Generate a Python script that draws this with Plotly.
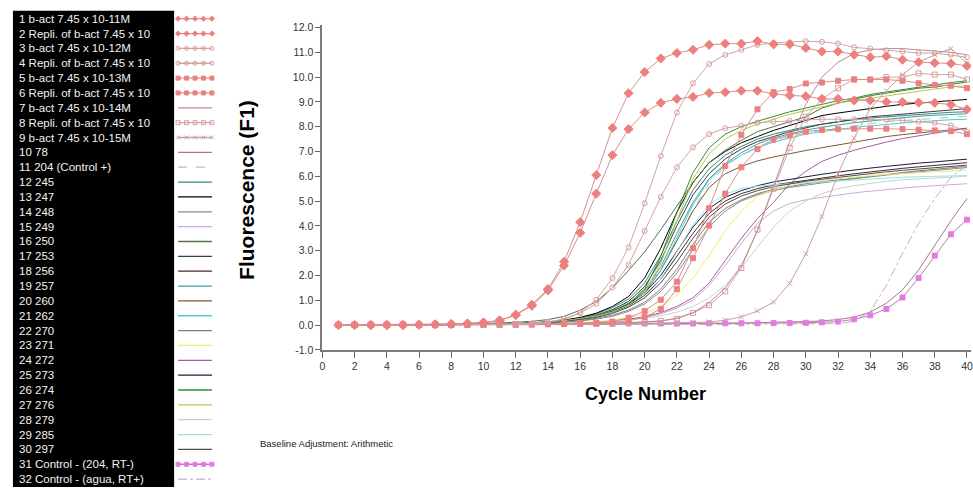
import plotly.graph_objects as go

# ---------------- data ----------------
cycles = list(range(1, 41))

names = ["1 b-act 7.45 x 10-11M", "2 Repli. of b-act 7.45 x 10", "3 b-act 7.45 x 10-12M",
         "4 Repli. of b-act 7.45 x 10", "5 b-act 7.45 x 10-13M", "6 Repli. of b-act 7.45 x 10",
         "7 b-act 7.45 x 10-14M", "8 Repli. of b-act 7.45 x 10", "9 b-act 7.45 x 10-15M",
         "10 78", "11 204 (Control +)", "12 245", "13 247", "14 248", "15 249", "16 250",
         "17 253", "18 256", "19 257", "20 260", "21 262", "22 270", "23 271", "24 272",
         "25 273", "26 274", "27 276", "28 279", "29 285", "30 297",
         "31 Control - (204, RT-)", "32 Control - (agua, RT+)"]

s01 = [0.0,0.0,0.0,0.0,0.0,0.02,0.03,0.04,0.06,0.10, 0.19,0.42,0.82,1.45,2.55,4.15,6.05,7.95,9.35,10.20,
       10.75,10.97,11.10,11.30,11.35,11.35,11.45,11.32,11.32,11.17, 11.03,11.03,10.90,10.80,10.84,10.70,10.60,10.57,10.55,10.45]
s02 = [0.0,0.0,0.0,0.0,0.0,0.01,0.02,0.04,0.06,0.10, 0.18,0.40,0.78,1.40,2.40,3.72,5.30,6.85,7.90,8.57,
       8.96,9.12,9.20,9.36,9.39,9.45,9.45,9.32,9.26,9.23, 9.12,9.12,9.06,9.06,9.00,8.99,8.97,8.96,8.89,8.70]
s03 = [0.0,0.0,0.0,0.0,0.0,0.0,0.01,0.01,0.02,0.02, 0.03,0.04,0.06,0.11,0.24,0.50,1.02,1.90,3.13,4.91,
       6.82,8.57,9.75,10.53,10.90,11.10,11.30,11.38,11.40,11.45, 11.42,11.35,11.20,11.15,11.08,11.03,10.97,10.97,10.90,10.80]
s04 = [0.0,0.0,0.0,0.0,0.0,0.0,0.01,0.01,0.02,0.02, 0.03,0.04,0.06,0.12,0.25,0.48,0.85,1.51,2.43,3.79,
       5.17,6.36,7.17,7.70,7.94,8.04,8.16,8.20,8.23,8.27, 8.30,8.30,8.30,8.30,8.28,8.25,8.20,8.15,8.05,7.80]
s05 = [0.0,0.0,0.0,0.0,0.0,0.0,0.0,0.01,0.01,0.01, 0.02,0.02,0.03,0.04,0.05,0.06,0.09,0.14,0.30,0.57,
       1.02,1.75,3.10,4.71,6.42,7.67,8.70,9.39,9.52,9.74, 9.78,9.85,9.90,9.90,9.90,9.85,9.75,9.68,9.65,9.55]
s06 = [0.0,0.0,0.0,0.0,0.0,0.0,0.0,0.01,0.01,0.01, 0.02,0.02,0.03,0.04,0.05,0.06,0.08,0.11,0.17,0.32,
       0.65,1.45,2.70,4.01,5.30,6.36,7.10,7.48,7.67,7.80, 7.87,7.90,7.92,7.92,7.92,7.90,7.88,7.85,7.82,7.70]
s07 = [0.0,0.0,0.0,0.0,0.0,0.0,0.0,0.0,0.01,0.01, 0.01,0.02,0.02,0.03,0.04,0.05,0.06,0.08,0.10,0.12,
       0.16,0.28,0.50,0.90,1.50,2.40,3.80,5.60,7.40,8.90, 10.00,10.60,10.95,11.10,11.15,11.15,11.10,11.05,11.00,10.90]
s08 = [0.0,0.0,0.0,0.0,0.0,0.0,0.0,0.0,0.01,0.01, 0.01,0.02,0.02,0.03,0.04,0.05,0.06,0.08,0.10,0.13,
       0.17,0.25,0.49,0.80,1.36,2.30,3.85,5.50,7.15,8.40, 9.12,9.55,9.91,9.90,10.00,10.00,10.15,10.10,10.10,9.90]
s09 = [0.0,0.0,0.0,0.0,0.0,0.0,0.0,0.0,0.0,0.01, 0.01,0.01,0.02,0.02,0.03,0.03,0.04,0.05,0.06,0.07,
       0.08,0.09,0.10,0.12,0.20,0.33,0.57,0.93,1.68,2.87, 4.38,6.10,7.54,8.73,9.45,10.10,10.60,10.90,11.15,10.55]
s10 = [0.0,0.0,0.0,0.0,0.0,0.0,0.0,0.0,0.0,0.0, 0.0,0.01,0.01,0.01,0.02,0.02,0.02,0.03,0.03,0.04,
       0.04,0.05,0.05,0.06,0.07,0.08,0.09,0.10,0.12,0.14, 0.17,0.22,0.32,0.52,0.88,1.42,2.22,3.20,4.20,5.10]
s11 = [0.0,0.0,0.0,0.0,0.0,0.0,0.0,0.01,0.01,0.02, 0.03,0.05,0.08,0.12,0.18,0.28,0.42,0.62,0.95,1.45,
       2.25,3.40,4.65,5.70,6.40,6.85,7.20,7.45,7.60,7.75, 7.85,7.95,8.05,8.12,8.20,8.25,8.30,8.35,8.38,8.42]
s12 = [0.0,0.0,0.0,0.0,0.0,0.0,0.0,0.01,0.01,0.02, 0.03,0.05,0.08,0.12,0.19,0.29,0.45,0.70,1.05,1.70,
       2.80,4.20,5.45,6.30,6.85,7.20,7.50,7.70,7.85,8.00, 8.10,8.20,8.28,8.35,8.40,8.45,8.50,8.55,8.58,8.60]
s13 = [0.0,0.0,0.0,0.0,0.0,0.0,0.0,0.01,0.01,0.02, 0.03,0.05,0.08,0.13,0.20,0.31,0.48,0.75,1.15,1.90,
       3.10,4.55,5.75,6.55,7.00,7.35,7.60,7.85,8.05,8.25, 8.45,8.55,8.65,8.75,8.82,8.90,8.95,9.00,9.05,9.10]
s14 = [0.0,0.0,0.0,0.0,0.0,0.0,0.0,0.01,0.01,0.01, 0.02,0.03,0.05,0.08,0.12,0.17,0.24,0.35,0.55,0.85,
       1.35,2.10,3.05,3.95,4.60,5.00,5.25,5.42,5.55,5.65, 5.74,5.82,5.90,5.98,6.05,6.12,6.18,6.24,6.30,6.35]
s15 = [0.0,0.0,0.0,0.0,0.0,0.0,0.0,0.0,0.01,0.01, 0.01,0.02,0.03,0.04,0.06,0.08,0.11,0.15,0.21,0.30,
       0.45,0.68,1.00,1.60,2.40,3.30,4.10,4.60,4.90,5.05, 5.15,5.25,5.33,5.40,5.47,5.53,5.58,5.62,5.66,5.70]
s16 = [0.0,0.0,0.0,0.0,0.0,0.01,0.02,0.03,0.04,0.06, 0.08,0.11,0.15,0.22,0.35,0.60,0.95,1.50,2.20,2.95,
       3.85,4.80,5.75,6.55,7.05,7.45,7.80,8.00,8.20,8.40, 8.75,8.95,9.10,9.25,9.35,9.45,9.55,9.60,9.70,9.80]
s17 = [0.0,0.0,0.0,0.0,0.0,0.0,0.0,0.01,0.01,0.02, 0.03,0.05,0.07,0.11,0.17,0.26,0.40,0.62,0.95,1.55,
       2.60,4.00,5.25,6.10,6.70,7.10,7.40,7.60,7.80,7.95, 8.10,8.20,8.30,8.40,8.45,8.50,8.58,8.63,8.68,8.73]
s18 = [0.0,0.0,0.0,0.0,0.0,0.0,0.0,0.01,0.01,0.02, 0.03,0.04,0.06,0.10,0.15,0.22,0.33,0.50,0.78,1.20,
       1.85,2.75,3.70,4.50,5.00,5.30,5.50,5.65,5.75,5.85, 5.93,6.02,6.10,6.18,6.25,6.32,6.38,6.44,6.50,6.55]
s19 = [0.0,0.0,0.0,0.0,0.0,0.0,0.0,0.01,0.01,0.02, 0.03,0.04,0.07,0.10,0.16,0.24,0.37,0.57,0.88,1.40,
       2.35,3.70,4.95,5.90,6.50,6.95,7.30,7.55,7.72,7.86, 7.98,8.08,8.16,8.23,8.30,8.36,8.42,8.46,8.50,8.52]
s20 = [0.0,0.0,0.0,0.0,0.0,0.0,0.0,0.01,0.01,0.02, 0.03,0.04,0.06,0.10,0.15,0.23,0.35,0.55,0.85,1.30,
       2.20,3.40,4.60,5.55,6.10,6.40,6.62,6.78,6.92,7.04, 7.15,7.26,7.38,7.50,7.60,7.68,7.75,7.82,7.88,7.94]
s21 = [0.0,0.0,0.0,0.0,0.0,0.0,0.0,0.01,0.01,0.02, 0.03,0.04,0.06,0.10,0.15,0.23,0.36,0.56,0.86,1.35,
       2.20,3.50,4.85,5.85,6.45,6.85,7.15,7.38,7.55,7.70, 7.80,7.90,7.97,8.03,8.10,8.15,8.20,8.25,8.28,8.30]
s22 = [0.0,0.0,0.0,0.0,0.0,0.0,0.0,0.01,0.01,0.01, 0.02,0.03,0.05,0.08,0.12,0.18,0.27,0.40,0.60,0.92,
       1.45,2.25,3.25,4.15,4.70,5.05,5.30,5.48,5.60,5.70, 5.78,5.86,5.94,6.02,6.08,6.15,6.22,6.28,6.34,6.40]
s23 = [0.0,0.0,0.0,0.0,0.0,0.0,0.0,0.0,0.01,0.01, 0.01,0.02,0.03,0.05,0.07,0.10,0.14,0.20,0.30,0.45,
       0.75,1.20,1.90,2.80,3.80,4.60,5.20,5.45,5.62,5.75, 5.84,5.91,5.97,6.02,6.07,6.11,6.15,6.19,6.22,6.25]
s24 = [0.0,0.0,0.0,0.0,0.0,0.0,0.0,0.0,0.01,0.01, 0.01,0.02,0.03,0.04,0.06,0.08,0.11,0.16,0.23,0.33,
       0.50,0.75,1.10,1.70,2.60,3.50,4.30,4.95,5.70,6.20, 6.60,6.85,7.05,7.22,7.38,7.52,7.64,7.74,7.84,7.92]
s25 = [0.0,0.0,0.0,0.0,0.0,0.0,0.0,0.01,0.01,0.02, 0.03,0.05,0.07,0.11,0.16,0.24,0.36,0.55,0.85,1.30,
       2.00,2.95,3.95,4.70,5.15,5.42,5.62,5.77,5.88,5.98, 6.08,6.17,6.26,6.33,6.40,6.47,6.53,6.58,6.63,6.69]
s26 = [0.0,0.0,0.0,0.0,0.0,0.0,0.0,0.01,0.01,0.02, 0.03,0.05,0.08,0.12,0.18,0.26,0.38,0.55,0.85,1.45,
       2.75,4.55,6.15,7.15,7.70,8.00,8.22,8.42,8.60,8.75, 8.90,9.05,9.15,9.30,9.40,9.50,9.60,9.70,9.78,9.85]
s27 = [0.0,0.0,0.0,0.0,0.0,0.0,0.0,0.01,0.01,0.02, 0.03,0.05,0.07,0.11,0.17,0.25,0.36,0.52,0.80,1.30,
       2.50,4.20,5.90,6.90,7.50,7.85,8.10,8.30,8.50,8.65, 8.80,8.95,9.05,9.15,9.25,9.35,9.45,9.52,9.60,9.65]
s28 = [0.0,0.0,0.0,0.0,0.0,0.0,0.0,0.0,0.01,0.01, 0.01,0.02,0.03,0.04,0.06,0.08,0.11,0.15,0.20,0.27,
       0.37,0.52,0.75,1.10,1.60,2.30,3.15,3.95,4.60,5.00, 5.30,5.50,5.62,5.72,5.80,5.86,5.90,5.94,5.97,6.00]
s29 = [0.0,0.0,0.0,0.0,0.0,0.0,0.0,0.01,0.01,0.02, 0.03,0.04,0.06,0.09,0.14,0.21,0.32,0.48,0.72,1.10,
       1.85,2.95,4.05,4.85,5.28,5.50,5.60,5.66,5.70,5.74, 5.78,5.82,5.86,5.90,5.93,5.96,5.98,6.00,6.02,6.03]
s30 = [0.0,0.0,0.0,0.0,0.0,0.0,0.0,0.01,0.01,0.02, 0.03,0.04,0.06,0.09,0.14,0.21,0.31,0.47,0.72,1.10,
       1.70,2.55,3.50,4.35,4.88,5.20,5.42,5.58,5.70,5.80, 5.88,5.96,6.04,6.12,6.18,6.24,6.30,6.35,6.40,6.45]
s31 = [0.02,0.02,0.02,0.02,0.03,0.03,0.03,0.03,0.03,0.04, 0.04,0.04,0.04,0.05,0.05,0.05,0.05,0.05,0.06,0.06,
       0.06,0.06,0.06,0.07,0.07,0.07,0.07,0.08,0.08,0.09, 0.11,0.14,0.23,0.39,0.65,1.11,1.90,2.80,3.66,4.25]
s32 = [0.0,0.0,0.0,0.0,0.0,0.0,0.0,0.0,0.0,0.0, 0.0,0.0,0.01,0.01,0.01,0.01,0.02,0.02,0.02,0.02,
       0.02,0.03,0.03,0.03,0.03,0.03,0.04,0.04,0.04,0.04, 0.05,0.06,0.15,0.55,1.60,2.90,4.10,5.10,5.95,6.45]

series = [s01, s02, s03, s04, s05, s06, s07, s08, s09, s10, s11, s12, s13, s14, s15, s16,
          s17, s18, s19, s20, s21, s22, s23, s24, s25, s26, s27, s28, s29, s30, s31, s32]

y_ticks = [-1, 0, 1, 2, 3, 4, 5, 6, 7, 8, 9, 10, 11, 12]
x_ticks = list(range(0, 41, 2))

# ---------------- styles ----------------
RED = '#EE7F7F'
styles = [
    dict(color='#D49090', symbol='diamond', mcolor=RED, msize=7),
    dict(color='#D49090', symbol='diamond', mcolor=RED, msize=7),
    dict(color='#D2A4A4', symbol='circle-open', mcolor='#D89C9C', msize=5),
    dict(color='#D2A4A4', symbol='circle-open', mcolor='#D89C9C', msize=5),
    dict(color='#D49090', symbol='square', mcolor=RED, msize=5),
    dict(color='#D49090', symbol='square', mcolor=RED, msize=5),
    dict(color='#B78C95'),
    dict(color='#D2A4A4', symbol='square-open', mcolor='#D89C9C', msize=5),
    dict(color='#C9A0A0', symbol='x-thin-open', mcolor='#D0A0A0', msize=5),
    dict(color='#A87888'),
    dict(color='#BDBDBD', dash='dash'),
    dict(color='#2E8A7E'),
    dict(color='#000000'),
    dict(color='#8C8C8C'),
    dict(color='#CDA9DA'),
    dict(color='#55704A'),
    dict(color='#3C3C3C'),
    dict(color='#4A2A2A'),
    dict(color='#3AA0A0'),
    dict(color='#7A5A3A'),
    dict(color='#4CCCD6'),
    dict(color='#7F7F7F'),
    dict(color='#EDED70'),
    dict(color='#A0609A'),
    dict(color='#1C1C3C'),
    dict(color='#2F8F2F'),
    dict(color='#C2C24A'),
    dict(color='#CFCFCF'),
    dict(color='#94E4E4'),
    dict(color='#4E4E4E'),
    dict(color='#B87CA8', symbol='square', mcolor='#E57AE5', msize=5, dash='solid'),
    dict(color='#C8A8D0', dash='dashdot'),
]

fig = go.Figure()

draw_order = list(range(10, 30)) + [9, 31, 30, 8, 7, 6, 5, 4, 3, 2, 1, 0]
for i in draw_order:
    st = styles[i]
    has_m = 'symbol' in st
    fig.add_trace(go.Scatter(
        x=cycles, y=series[i], mode='lines+markers' if has_m else 'lines',
        line=dict(color=st['color'], width=1, dash=st.get('dash', 'solid')),
        marker=dict(symbol=st.get('symbol', 'circle'), size=st.get('msize', 6),
                    color=st.get('mcolor', st['color']),
                    line=dict(width=1, color=st.get('mcolor', st['color']))),
        xaxis='x', yaxis='y', hoverinfo='skip', showlegend=False))

# ---------------- custom legend (pixel-coordinate helper axes) ----------------
ROW0, ROWSTEP = 15.0, 15.16
sample_x = [176, 184.5, 193, 201.5, 210]
annotations = []
for i, nm in enumerate(names):
    ry = ROW0 + ROWSTEP * i
    st = styles[i]
    has_m = 'symbol' in st
    fig.add_trace(go.Scatter(
        x=sample_x, y=[ry] * len(sample_x), mode='lines+markers' if has_m else 'lines',
        line=dict(color=st['color'], width=1.3, dash=st.get('dash', 'solid')),
        marker=dict(symbol=st.get('symbol', 'circle'), size=4,
                    color=st.get('mcolor', st['color']),
                    line=dict(width=1, color=st.get('mcolor', st['color']))),
        xaxis='x2', yaxis='y2', hoverinfo='skip', showlegend=False, cliponaxis=False))
    annotations.append(dict(text=nm, x=14, y=ry, xref='x2', yref='y2', xanchor='left',
                            yanchor='middle', showarrow=False,
                            font=dict(family='Arial, Liberation Sans', size=11.5, color='#F2F2F2')))

W, H = 973, 493
annotations += [
    dict(text='<b>Fluorescence (F1)</b>', x=244 / W, y=1 - 190 / H, xref='paper', yref='paper',
         textangle=-90, showarrow=False, xanchor='center', yanchor='middle',
         font=dict(family='Arial, Liberation Sans', size=21, color='#000')),
    dict(text='<b>Cycle Number</b>', x=646 / W, y=1 - 398 / H, xref='paper', yref='paper',
         showarrow=False, xanchor='center', yanchor='middle',
         font=dict(family='Arial, Liberation Sans', size=18, color='#000')),
    dict(text='Baseline Adjustment: Arithmetic', x=256 / W, y=1 - 449 / H, xref='paper', yref='paper',
         showarrow=False, xanchor='left', yanchor='middle',
         font=dict(family='Arial, Liberation Sans', size=9.5, color='#222')),
]

fig.update_layout(
    width=W, height=H, autosize=False, margin=dict(l=0, r=0, t=0, b=0),
    paper_bgcolor='white', plot_bgcolor='white', showlegend=False,
    font=dict(family='Arial, Liberation Sans'),
    xaxis=dict(domain=[321 / W, 1], range=[0, 40.25], tickmode='array', tickvals=x_ticks,
               ticktext=[str(v) for v in x_ticks], ticks='outside', ticklen=6, tickcolor='#666',
               tickwidth=1, showline=True, linecolor='#7A7A7A', linewidth=2, showgrid=False,
               zeroline=False, tickfont=dict(size=10.5, color='#333'), anchor='y',
               ticklabeloverflow='allow'),
    yaxis=dict(domain=[1 - 353 / H, 1 - 21.7 / H], range=[-1, 12.09], tickmode='array',
               tickvals=y_ticks, ticktext=['%.1f' % v for v in y_ticks], ticks='outside',
               ticklen=5, tickcolor='#666', tickwidth=1, showline=True, linecolor='#7A7A7A',
               linewidth=2, showgrid=False, zeroline=False,
               tickfont=dict(size=10.5, color='#333'), anchor='x'),
    xaxis2=dict(domain=[0, 0.25], range=[0, 0.25 * W], visible=False, anchor='y2'),
    yaxis2=dict(domain=[0, 1], range=[H, 0], visible=False, anchor='x2'),
    shapes=[dict(type='rect', xref='x2', yref='y2', x0=10, x1=172, y0=7, y1=H,
                 fillcolor='#000000', line=dict(width=0), layer='below')],
    annotations=annotations,
)

fig.write_html("out.html")
